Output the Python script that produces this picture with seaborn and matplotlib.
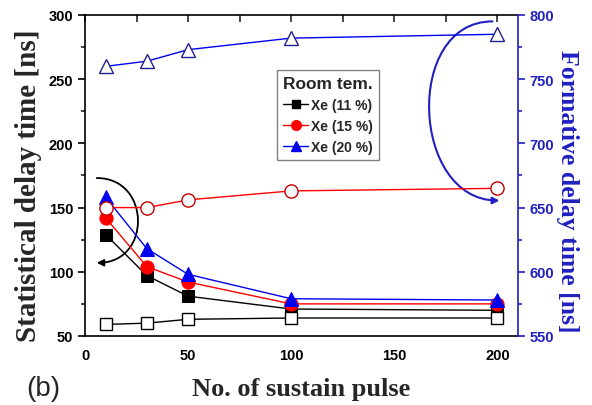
import matplotlib
matplotlib.use("Agg")
import matplotlib.pyplot as plt
import seaborn as sns
from matplotlib.lines import Line2D
from matplotlib.path import Path
from matplotlib.patches import FancyArrowPatch
from matplotlib.ticker import MultipleLocator

# Number of sustain pulses
pulses = [10, 30, 50, 100, 200]

# Statistical delay time [ns] (left axis)
stat_xe11 = [129, 97, 81, 71, 70]
stat_xe15 = [142, 104, 92, 75, 75]
stat_xe20 = [158, 118, 98, 79, 78]

# Formative delay time [ns] (right axis)
form_xe11 = [559, 560, 563, 564, 564]
form_xe15 = [650, 650, 656, 663, 665]
form_xe20 = [760, 764, 773, 782, 785]

series_labels = ["Xe (11 %)", "Xe (15 %)", "Xe (20 %)"]
legend_title = "Room tem."

sns.set_theme(style="white")
plt.rcParams["font.family"] = ["Liberation Sans", "DejaVu Sans"]
plt.rcParams["axes.linewidth"] = 1.2

BLUE = "#0000ee"
AXBLUE = "#2020c0"
RED = "#ff0000"

fig = plt.figure(figsize=(5.92, 4.06), dpi=100)
ax = fig.add_axes([0.1436, 0.170, 0.7314, 0.7906])
ax2 = ax.twinx()

ms = 8.5
lw = 1.0

# statistical delay (filled markers)
sns.lineplot(x=pulses, y=stat_xe11, ax=ax, color="black", lw=lw, marker="s",
             markersize=ms, markerfacecolor="black", markeredgecolor="black")
sns.lineplot(x=pulses, y=stat_xe15, ax=ax, color=RED, lw=lw, marker="o",
             markersize=ms + 1, markerfacecolor=RED, markeredgecolor=RED)
sns.lineplot(x=pulses, y=stat_xe20, ax=ax, color=BLUE, lw=lw, marker="^",
             markersize=ms + 1.5, markerfacecolor=BLUE, markeredgecolor=BLUE)

# formative delay (open markers)
sns.lineplot(x=pulses, y=form_xe11, ax=ax2, color="black", lw=lw, marker="s",
             markersize=ms, markerfacecolor="white", markeredgecolor="black",
             markeredgewidth=1.0)
sns.lineplot(x=pulses, y=form_xe15, ax=ax2, color=RED, lw=lw, marker="o",
             markersize=ms + 1, markerfacecolor="white", markeredgecolor="#c00000",
             markeredgewidth=1.0)
sns.lineplot(x=pulses, y=form_xe20, ax=ax2, color=BLUE, lw=lw, marker="^",
             markersize=ms + 2, markerfacecolor="white", markeredgecolor="#202090",
             markeredgewidth=1.0)

ax.set_xlim(0, 210)
ax.set_ylim(50, 300)
ax2.set_ylim(550, 800)

ax.xaxis.set_major_locator(MultipleLocator(50))
ax.xaxis.set_minor_locator(MultipleLocator(25))
ax.yaxis.set_major_locator(MultipleLocator(50))
ax.yaxis.set_minor_locator(MultipleLocator(25))
ax2.yaxis.set_major_locator(MultipleLocator(50))
ax2.yaxis.set_minor_locator(MultipleLocator(25))

ax.tick_params(axis="both", which="major", direction="out", length=5, width=1.2,
               labelsize=10.5, colors="black", top=False)
ax.tick_params(axis="both", which="minor", direction="out", length=3, width=1.2)
ax.tick_params(axis="y", which="both", right=False)
ax2.tick_params(axis="y", which="major", direction="out", length=5, width=1.2,
                labelsize=10.5, colors=AXBLUE)
ax2.tick_params(axis="y", which="minor", direction="out", length=3, width=1.2,
                colors=AXBLUE)

# inward ticks along the top edge
top = ax.secondary_xaxis("top")
top.xaxis.set_major_locator(MultipleLocator(25))
top.tick_params(direction="in", length=5, width=1.2, labeltop=False)
top.spines["top"].set_visible(False)

for lab in ax.get_xticklabels() + ax.get_yticklabels() + ax2.get_yticklabels():
    lab.set_fontweight("bold")

for s in ax.spines.values():
    s.set_color("black")
    s.set_linewidth(1.2)
ax.spines["right"].set_visible(False)
for name in ("left", "top", "bottom"):
    ax2.spines[name].set_visible(False)
ax2.spines["right"].set_color(AXBLUE)
ax2.spines["right"].set_linewidth(1.2)

serif = ["Liberation Serif", "DejaVu Serif"]
ax.set_xlabel("No. of sustain pulse", fontsize=19, fontweight="bold",
              family=serif, labelpad=11)
ax.set_ylabel("Statistical delay time [ns]", fontsize=21, fontweight="bold",
              family=serif, labelpad=5)
ax2.set_ylabel("Formative delay time [ns]", fontsize=18.5, fontweight="bold",
               family=serif, color=AXBLUE, rotation=270, labelpad=18)
ax.yaxis.label.set_y(0.47)
ax2.yaxis.label.set_y(0.455)

fig.text(0.045, 0.042, "(b)", fontsize=20, ha="left", va="center")


def curved_arrow(axes, start, end, ctrl_dx, color, lw_):
    """Smooth cubic arc from start to end, bulging by ctrl_dx in x."""
    verts = [start,
             (start[0] + ctrl_dx, start[1]),
             (end[0] + ctrl_dx, end[1]),
             end]
    path = Path(verts, [Path.MOVETO, Path.CURVE4, Path.CURVE4, Path.CURVE4])
    arrow = FancyArrowPatch(path=path, arrowstyle="-|>", color=color, lw=lw_,
                            mutation_scale=10, transform=axes.transData,
                            clip_on=False)
    axes.add_patch(arrow)


# arc pointing from the statistical curves to the left axis
curved_arrow(ax, (5.7, 173), (5.7, 107), 26.5, "black", 1.3)
# arc pointing from the formative curves to the right axis
curved_arrow(ax2, (197.6, 795), (201, 655.5), -43, AXBLUE, 1.5)

handles = [
    Line2D([], [], color="black", lw=lw, marker="s", markersize=6),
    Line2D([], [], color=RED, lw=lw, marker="o", markersize=7),
    Line2D([], [], color=BLUE, lw=lw, marker="^", markersize=7.5),
]
leg = ax2.legend(handles, series_labels, title=legend_title,
                 loc="upper left", bbox_to_anchor=(0.443, 0.829),
                 borderaxespad=0,
                 prop=dict(weight="bold", size=10),
                 frameon=True, fancybox=False, edgecolor="#606060",
                 handlelength=1.8, handletextpad=0.2, labelspacing=0.5,
                 borderpad=0.45)
leg.get_title().set_fontsize(12.5)
leg.get_title().set_fontweight("bold")
leg.get_frame().set_linewidth(1.0)
leg._legend_box.align = "left"

fig.savefig("out.png", dpi=100)
